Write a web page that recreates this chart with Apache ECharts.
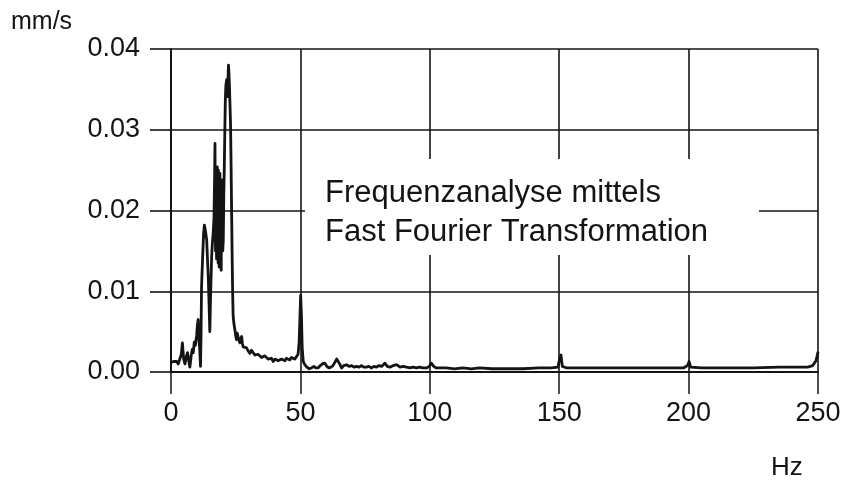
<!DOCTYPE html>
<html>
<head>
<meta charset="utf-8">
<script src="https://cdn.jsdelivr.net/npm/echarts@6/dist/echarts.min.js"></script>
<style>
  html, body { margin: 0; padding: 0; background: #fff; }
  #chart { width: 846px; height: 489px; }
</style>
</head>
<body>
<div id="chart"></div>
<script>
// Spectrum of the vibration velocity (FFT), frequency in Hz, amplitude in mm/s
const freqHz = [
  0.0, 0.5, 1.0, 1.6, 2.2, 2.8, 3.4, 4.0, 4.4, 4.9,
  5.4, 5.9, 6.4, 6.9, 7.3, 7.8, 8.2, 8.6, 9.0, 9.4,
  9.9, 10.2, 10.5, 10.8, 11.1, 11.4, 11.6, 11.8, 12.2, 12.6,
  12.9, 13.3, 13.8, 14.1, 14.4, 14.7, 15.0, 15.3, 15.7, 16.0,
  16.3, 16.6, 16.8, 17.0, 17.1, 17.2, 17.3, 17.4, 17.5, 17.6,
  17.7, 17.8, 17.9, 18.0, 18.1, 18.2, 18.3, 18.4, 18.5, 18.6,
  18.7, 18.8, 18.9, 19.0, 19.1, 19.2, 19.3, 19.4, 19.5, 19.6,
  19.7, 19.8, 19.9, 20.0, 20.2, 20.4, 20.6, 20.8, 21.0, 21.2,
  21.5, 21.7, 21.9, 22.05, 22.2, 22.4, 22.6, 22.8, 23.0, 23.2,
  23.4, 23.6, 23.8, 24.0, 24.3, 24.7, 25.0, 25.3, 25.6, 25.9,
  26.2, 26.6, 27.0, 27.3, 27.6, 27.9, 28.5, 29.2, 29.8, 30.5,
  31.1, 31.8, 32.4, 33.0, 33.6, 34.3, 35.0, 35.6, 36.2, 36.9,
  37.5, 38.2, 38.8, 39.5, 40.2, 40.8, 41.4, 42.0, 42.7, 43.3,
  44.0, 44.6, 45.2, 45.9, 46.5, 47.2, 47.8, 48.5, 49.1, 49.5,
  49.8, 50.1, 50.4, 50.7, 51.1, 51.7, 52.5, 53.4, 54.3, 55.2,
  56.0, 56.8, 57.7, 58.5, 59.4, 60.2, 61.0, 61.8, 62.6, 63.3,
  64.0, 64.6, 65.2, 65.9, 66.8, 67.8, 68.8, 69.8, 70.7, 71.7,
  72.7, 73.6, 74.5, 75.5, 76.5, 77.4, 78.4, 79.4, 80.4, 81.5,
  82.6, 83.6, 84.6, 85.9, 87.2, 88.5, 89.7, 91.0, 92.3, 93.5,
  94.8, 96.0, 97.3, 98.7, 99.8, 100.6, 101.5, 102.5, 104.5, 106.4,
  109.5, 112.8, 116.0, 119.2, 124, 130, 136, 142, 147, 149.5,
  150.3, 150.7, 151.2, 153, 160, 170, 180, 190, 198, 199.6,
  200.2, 200.8, 205, 215, 225, 235, 242, 246, 248, 249.2,
  249.7, 250
];

const amplitude = [
  0.0012, 0.0014, 0.0013, 0.0011, 0.0013, 0.0010, 0.0012, 0.0022, 0.0036, 0.0016,
  0.0010, 0.0019, 0.0024, 0.0013, 0.0006, 0.0020, 0.0028, 0.0024, 0.0037, 0.0033,
  0.0045, 0.0058, 0.0065, 0.0040, 0.0028, 0.0007, 0.0045, 0.0105, 0.0140, 0.0172,
  0.0182, 0.0175, 0.0163, 0.0140, 0.0118, 0.0085, 0.0050, 0.0095, 0.0143, 0.0160,
  0.0172, 0.0190, 0.0230, 0.0283, 0.0195, 0.0150, 0.0240, 0.0160, 0.0215, 0.0140,
  0.0250, 0.0150, 0.0254, 0.0140, 0.0230, 0.0135, 0.0250, 0.0150, 0.0220, 0.0130,
  0.0235, 0.0145, 0.0246, 0.0135, 0.0225, 0.0130, 0.0210, 0.0126, 0.0200, 0.0150,
  0.0238, 0.0150, 0.0215, 0.0150, 0.0163, 0.0220, 0.0254, 0.0300, 0.0337, 0.0355,
  0.0362, 0.0348, 0.0341, 0.0365, 0.0380, 0.0370, 0.0353, 0.0330, 0.0308, 0.0260,
  0.0205, 0.0150, 0.0102, 0.0070, 0.0060, 0.0052, 0.0045, 0.0040, 0.0048, 0.0050,
  0.0040, 0.0036, 0.0041, 0.0044, 0.0035, 0.0031, 0.0033, 0.0030, 0.0026, 0.0023,
  0.0027, 0.0025, 0.0021, 0.0019, 0.0022, 0.0023, 0.0018, 0.0017, 0.0020, 0.0021,
  0.0016, 0.0015, 0.0017, 0.0013, 0.0016, 0.0017, 0.0014, 0.0013, 0.0016, 0.0015,
  0.0014, 0.0017, 0.0016, 0.0015, 0.0018, 0.0017, 0.0016, 0.0019, 0.0022, 0.0036,
  0.0065, 0.0095, 0.0070, 0.0030, 0.0013, 0.0009, 0.0006, 0.0004, 0.0005, 0.0007,
  0.0005, 0.0005, 0.0008, 0.0010, 0.0011, 0.0007, 0.0005, 0.0006, 0.0008, 0.0012,
  0.0016, 0.0017, 0.0010, 0.0005, 0.0008, 0.0009, 0.0007, 0.0008, 0.0006, 0.0007,
  0.0006, 0.0008, 0.0006, 0.0006, 0.0007, 0.0005, 0.0007, 0.0006, 0.0008, 0.0007,
  0.0011, 0.0007, 0.0006, 0.0008, 0.0009, 0.0006, 0.0007, 0.0006, 0.0005, 0.0006,
  0.0005, 0.0006, 0.0005, 0.0005, 0.0007, 0.0011, 0.0007, 0.0005, 0.0005, 0.0005,
  0.0004, 0.0005, 0.0004, 0.0005, 0.0004, 0.0004, 0.0004, 0.0005, 0.0005, 0.0006,
  0.0018, 0.0021, 0.0007, 0.0005, 0.0005, 0.0005, 0.0005, 0.0005, 0.0005, 0.0008,
  0.0013, 0.0006, 0.0005, 0.0005, 0.0005, 0.0006, 0.0006, 0.0006, 0.0008, 0.0014,
  0.0020, 0.0025
];

const xTicks = [0, 50, 100, 150, 200, 250];
const yTicks = [0, 0.01, 0.02, 0.03, 0.04];
const yUnit = 'mm/s';
const xUnit = 'Hz';
const noteLines = ['Frequenzanalyse mittels', 'Fast Fourier Transformation'];

const ink = '#141414';
const font = '"Liberation Sans", Arial, Helvetica, sans-serif';

const chart = echarts.init(document.getElementById('chart'), null, { renderer: 'canvas' });

chart.setOption({
  animation: false,
  backgroundColor: '#ffffff',
  grid: { left: 171, right: 28, top: 49, bottom: 117, containLabel: false },
  title: [
    { text: yUnit, left: 6, top: 5, textStyle: { fontFamily: font, fontSize: 25, fontWeight: 'normal', color: ink } },
    { text: xUnit, left: 766, top: 450, textStyle: { fontFamily: font, fontSize: 26, fontWeight: 'normal', color: ink } }
  ],
  xAxis: {
    type: 'value',
    min: xTicks[0],
    max: xTicks[xTicks.length - 1],
    interval: xTicks[1] - xTicks[0],
    axisLine: { show: true, lineStyle: { color: ink, width: 2 } },
    axisTick: { show: true, inside: false, length: 22, lineStyle: { color: ink, width: 1.5 } },
    axisLabel: { fontFamily: font, fontSize: 27, color: ink, margin: 28 },
    splitLine: { show: true, lineStyle: { color: ink, width: 1.6 } }
  },
  yAxis: {
    type: 'value',
    min: yTicks[0],
    max: yTicks[yTicks.length - 1],
    interval: yTicks[1] - yTicks[0],
    axisLine: { show: true, lineStyle: { color: ink, width: 2 } },
    axisTick: { show: true, inside: false, length: 21, lineStyle: { color: ink, width: 1.6 } },
    axisLabel: {
      fontFamily: font, fontSize: 27, color: ink, margin: 31,
      formatter: v => v.toFixed(2)
    },
    splitLine: { show: true, lineStyle: { color: ink, width: 1.6 } }
  },
  series: [{
    type: 'line',
    data: freqHz.map((f, i) => [f, amplitude[i]]),
    showSymbol: false,
    symbol: 'none',
    smooth: false,
    clip: true,
    lineStyle: { color: ink, width: 2.8, join: 'round' },
    z: 5
  }],
  graphic: [
    {
      type: 'rect', z: 100, zlevel: 0,
      shape: { x: 305, y: 159, width: 454, height: 96 },
      style: { fill: '#ffffff' }
    },
    {
      type: 'text', z: 101, zlevel: 0, left: 325, top: 174,
      style: { text: noteLines.join('\n'), font: '31px ' + font, fill: ink, lineHeight: 39 }
    }
  ]
});
</script>
</body>
</html>
